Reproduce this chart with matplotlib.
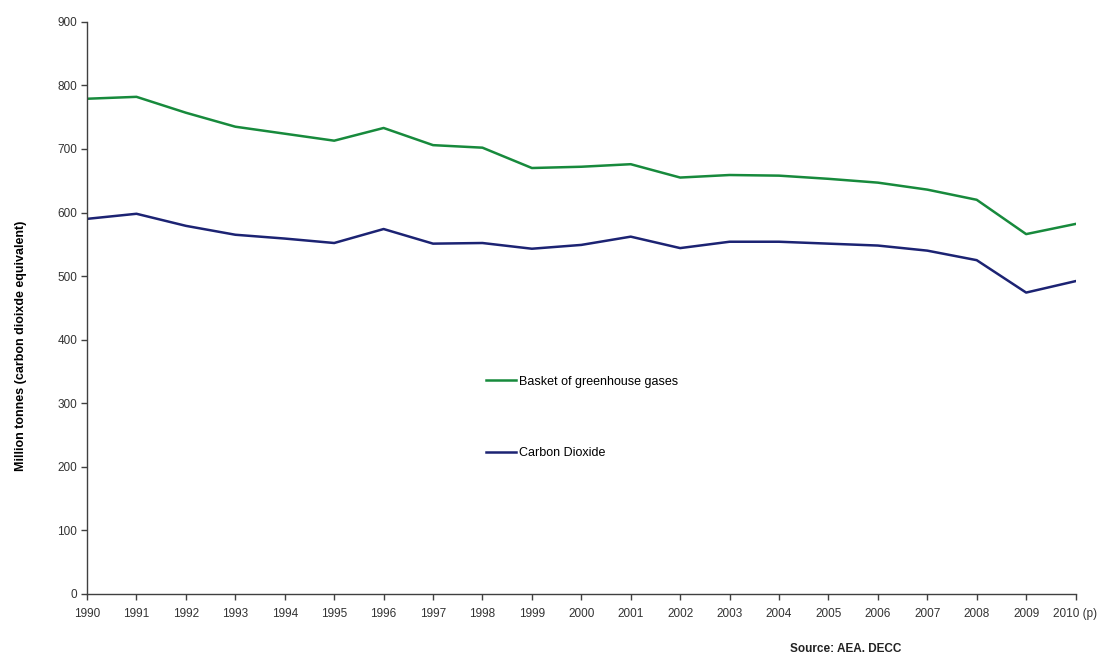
import matplotlib.pyplot as plt

years = list(range(1990, 2011))
year_labels = [str(y) for y in years[:-1]] + ['2010 (p)']

basket = [779, 782, 757, 735, 724, 713, 733, 706, 702, 670, 672,
          676, 655, 659, 658, 653, 647, 636, 620, 566, 582]
co2 = [590, 598, 579, 565, 559, 552, 574, 551, 552, 543, 549,
       562, 544, 554, 554, 551, 548, 540, 525, 474, 492]

plt.rcParams['font.family'] = ['Liberation Sans', 'DejaVu Sans']

fig = plt.figure(figsize=(11.02, 6.62), dpi=100)
ax = fig.add_axes([0.079, 0.103, 0.897, 0.864])

ax.plot(years, basket, color='#178a3c', lw=1.8, label='Basket of greenhouse gases')
ax.plot(years, co2, color='#1c2373', lw=1.8, label='Carbon Dioxide')

ax.set_xlim(1990, 2010)
ax.set_ylim(0, 900)
ax.set_xticks(years)
ax.set_xticklabels(year_labels)
ax.set_yticks(range(0, 901, 100))

for s in ['top', 'right']:
    ax.spines[s].set_visible(False)
for s in ['left', 'bottom']:
    ax.spines[s].set_color('#404040')
    ax.spines[s].set_linewidth(1.0)

ax.tick_params(axis='both', direction='out', length=4, width=1.0,
               color='#404040', labelsize=8.5, labelcolor='#333333')
ax.tick_params(axis='x', pad=6)
ax.tick_params(axis='y', pad=3)

ax.set_ylabel('Million tonnes (carbon dioixde equivalent)', fontsize=9,
              fontweight='bold')
ax.yaxis.set_label_coords(-0.061, 0.434)

ax.legend(loc='upper left', bbox_to_anchor=(0.392, 0.401), frameon=False,
          fontsize=9, handlelength=2.4, handletextpad=0.25, labelspacing=4.75)

fig.text(0.767, 0.01, 'Source: AEA. DECC', fontsize=8.5, fontweight='bold',
         ha='center', va='bottom', color='#222222')

fig.savefig('out.png', dpi=100)
